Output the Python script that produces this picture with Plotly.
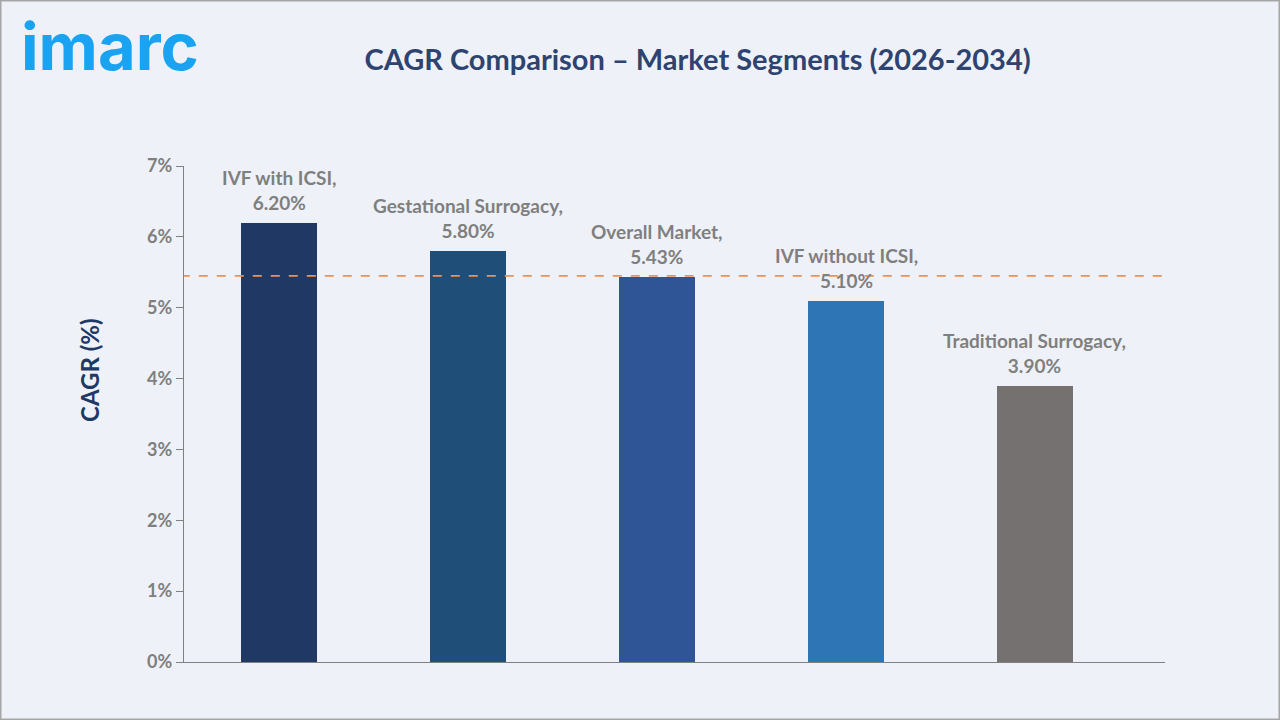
import plotly.graph_objects as go

categories = ["IVF with ICSI", "Gestational Surrogacy", "Overall Market", "IVF without ICSI", "Traditional Surrogacy"]
cagr_values = [6.20, 5.80, 5.43, 5.10, 3.90]
bar_colors = ["#1F3864", "#1F4E79", "#2F5597", "#2E75B6", "#767171"]
reference_value = 5.45
y_ticks = [0, 1, 2, 3, 4, 5, 6, 7]
y_tick_labels = [f"{v}%" for v in y_ticks]

x_pos = list(range(len(categories)))
labels = [f"<b>{c},</b><br><b>{v:.2f}%</b>" for c, v in zip(categories, cagr_values)]

fig = go.Figure()
fig.add_trace(go.Bar(
    x=x_pos, y=cagr_values, width=0.40,
    marker=dict(color=bar_colors, line=dict(width=0)),
    hoverinfo="skip",
))
fig.add_trace(go.Scatter(
    x=[-0.52, 4.69], y=[reference_value, reference_value], mode="lines",
    line=dict(color="#E8935A", width=1.6, dash="dash"), hoverinfo="skip",
))

annotations = []
for xp, v, lab in zip(x_pos, cagr_values, labels):
    annotations.append(dict(x=xp, y=v, xref="x", yref="y", text=lab, showarrow=False,
                            xanchor="center", yanchor="bottom", yshift=7,
                            font=dict(family="Lato", size=19, color="#7F7F7F"),
                            align="center"))
annotations.append(dict(text="<b>imarc</b>", xref="paper", yref="paper",
                        x=-165/981, y=1+(166-47)/496, xanchor="left", yanchor="middle",
                        showarrow=False,
                        font=dict(family="Inter", size=65, color="#1AA3F0")))
annotations.append(dict(text="<b>CAGR (%)</b>", xref="paper", yref="paper",
                        x=-(184-89)/981, y=(662-370)/496, xanchor="center", yanchor="middle",
                        textangle=-90, showarrow=False,
                        font=dict(family="Lato", size=24, color="#1F3864")))

fig.update_layout(
    width=1280, height=720,
    paper_bgcolor="#EEF2F8", plot_bgcolor="#EEF2F8",
    margin=dict(l=184, r=115, t=166, b=58),
    showlegend=False,
    bargap=0,
    title=dict(text="<b>CAGR Comparison – Market Segments (2026-2034)</b>",
               x=0.545, xanchor="center", y=0.917, yanchor="middle",
               font=dict(family="Lato", size=29, color="#2E4370")),
    xaxis=dict(range=[-0.503, 4.688], showticklabels=False, showgrid=False, zeroline=False,
               showline=True, linecolor="#808080", linewidth=1.3, ticks=""),
    yaxis=dict(range=[0, 7], tickvals=y_ticks, ticktext=y_tick_labels,
               showgrid=False, zeroline=False, showline=True, linecolor="#808080", linewidth=1.3,
               ticks="outside", ticklen=7, tickcolor="#808080",
               tickfont=dict(family="Lato", size=18, color="#7F7F7F", weight="bold")),
    shapes=[dict(type="rect", xref="paper", yref="paper", x0=-184/981, x1=1+115/981,
                 y0=-58/496, y1=1+166/496, line=dict(color="#A6A6A6", width=3))],
    annotations=annotations,
)

fig.write_html("out.html")
